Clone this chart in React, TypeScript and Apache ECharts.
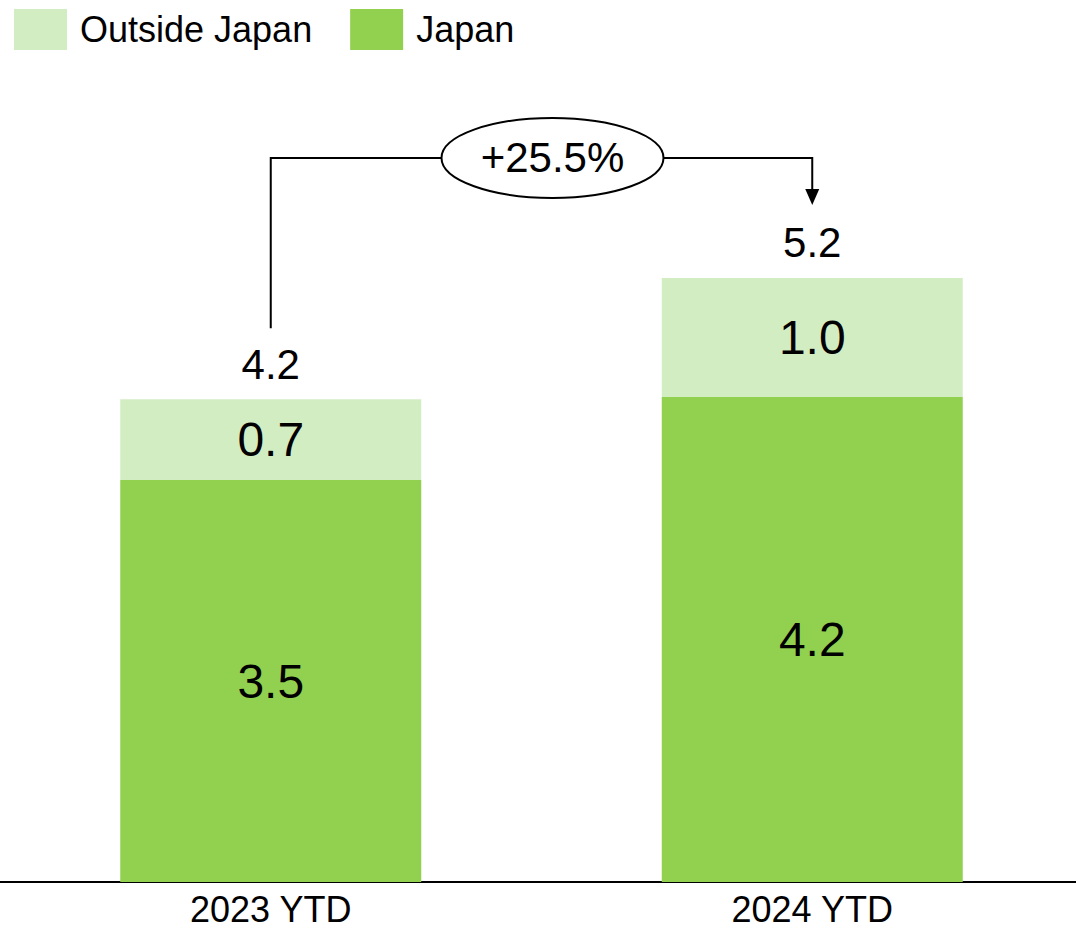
import React, { useEffect, useRef } from "react";
import * as echarts from "echarts";

const categories = ["2023 YTD", "2024 YTD"];
const seriesNames = ["Outside Japan", "Japan"];
const japan = [3.48, 4.2];
const outsideJapan = [0.7, 1.03];
const totals = [4.18, 5.23];
const growthLabel = "+25.5%";

const FONT = "'Liberation Sans', Arial, Helvetica, sans-serif";
const DARK_GREEN = "#92d050";
const LIGHT_GREEN = "#d3edc3";

export default function App() {
  const ref = useRef<HTMLDivElement>(null);

  useEffect(() => {
    document.body.style.margin = "0";
    const chart = echarts.init(ref.current!, null, { renderer: "svg" });
    const fmt = (p: any) => Number(p.value).toFixed(1);
    chart.setOption({
      animation: false,
      legend: {
        data: seriesNames,
        left: 14,
        top: 9,
        padding: 0,
        itemWidth: 53,
        itemHeight: 41,
        itemGap: 38,
        icon: "rect",
        selectedMode: false,
        textStyle: {
          fontSize: 36,
          color: "#000",
          fontFamily: FONT,
          padding: [0, 0, 0, 8],
        },
      },
      grid: { left: 0, width: 1083, top: 73.5, bottom: 47, outerBoundsMode: "none", containLabel: false },
      xAxis: {
        type: "category",
        data: categories,
        axisLine: { lineStyle: { color: "#000", width: 2 } },
        axisTick: { show: false },
        axisLabel: { fontSize: 36, lineHeight: 28, color: "#000", fontFamily: FONT, margin: 13 },
      },
      yAxis: { type: "value", min: 0, max: 7, show: false, splitLine: { show: false } },
      series: [
        {
          name: "Japan",
          type: "bar",
          stack: "total",
          data: japan,
          barWidth: 301,
          itemStyle: { color: DARK_GREEN },
          label: { show: true, position: "inside", fontSize: 48, color: "#000", fontFamily: FONT, formatter: fmt },
        },
        {
          name: "Outside Japan",
          type: "bar",
          stack: "total",
          data: outsideJapan,
          barWidth: 301,
          itemStyle: { color: LIGHT_GREEN },
          label: { show: true, position: "inside", fontSize: 48, color: "#000", fontFamily: FONT, formatter: fmt },
        },
        {
          name: "Total",
          type: "scatter",
          data: totals,
          symbolSize: 1,
          silent: true,
          itemStyle: { color: "rgba(255,255,255,0)", opacity: 1 },
          label: {
            show: true,
            position: "inside",
            offset: [0, -35],
            fontSize: 42,
            color: "#000",
            opacity: 1,
            fontFamily: FONT,
            formatter: fmt,
          },
        },
      ],
    });

    const p1 = chart.convertToPixel({ gridIndex: 0 } as any, [0, totals[0]]) as number[];
    const p2 = chart.convertToPixel({ gridIndex: 0 } as any, [1, totals[1]]) as number[];
    const x1 = p1[0];
    const x2 = p2[0];
    const lineY = p2[1] - 120;
    const cx = (x1 + x2) / 2 + 11;
    const rx = 111;
    const ry = 40;
    const lineStyle = { stroke: "#000", lineWidth: 2, fill: null };
    chart.setOption({
      graphic: [
        {
          type: "polyline",
          shape: { points: [[x1, p1[1] - 71], [x1, lineY], [cx - rx, lineY]] },
          style: lineStyle,
        },
        {
          type: "polyline",
          shape: { points: [[cx + rx, lineY], [x2, lineY], [x2, p2[1] - 88]] },
          style: lineStyle,
        },
        {
          type: "polygon",
          shape: { points: [[x2 - 7, p2[1] - 89], [x2 + 7, p2[1] - 89], [x2, p2[1] - 73]] },
          style: { fill: "#000" },
        },
        {
          type: "ellipse",
          shape: { cx, cy: lineY, rx, ry },
          style: { fill: "#fff", stroke: "#000", lineWidth: 2 },
        },
        {
          type: "text",
          x: cx,
          y: lineY,
          style: {
            text: growthLabel,
            fontSize: 42,
            fontFamily: FONT,
            fill: "#000",
            align: "center",
            verticalAlign: "middle",
          },
        },
      ],
    });

    return () => chart.dispose();
  }, []);

  return <div ref={ref} style={{ width: 1076, height: 929 }} />;
}
